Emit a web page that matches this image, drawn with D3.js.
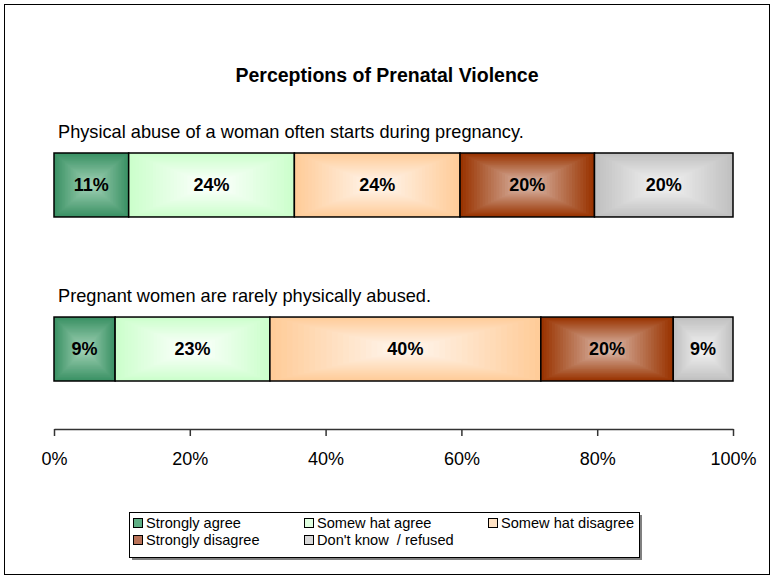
<!DOCTYPE html>
<html>
<head>
<meta charset="utf-8">
<script src="https://cdn.jsdelivr.net/npm/d3@7"></script>
<style>
  body { margin: 0; background: #fff; }
  svg { display: block; font-family: "Liberation Sans", Arial, sans-serif; }
</style>
</head>
<body>
<div id="chart"></div>
<script>
const width = 772;
const height = 577;

const title = "Perceptions of Prenatal Violence";
const statements = [
    "Physical abuse of a woman often starts during pregnancy.",
    "Pregnant women are rarely physically abused."
];
const categories = ["Strongly agree", "Somew hat agree", "Somew hat disagree", "Strongly disagree", "Don't know  / refused"];
const statement1 = [11.0, 24.4, 24.4, 19.8, 20.4];
const statement2 = [9.0, 22.8, 39.9, 19.5, 8.8];
const ticks = [0, 0.2, 0.4, 0.6, 0.8, 1];

// edge colour and centre colour of the "from centre" fill for each category
const edgeColors = ["#3a9164", "#ccffcc", "#ffcc99", "#993300", "#c0c0c0"];
const centerColors = ["#a2d2b6", "#ffffff", "#fff6ee", "#dcbcae", "#f4f4f4"];
const swatchColors = ["#5faf85", "#e0ffe0", "#ffe2c4", "#b97258", "#d8d8d8"];

const x = d3.scaleLinear().domain([0, 1]).range([54, 733]);
const y = d3.scaleBand().domain([0, 1]).range([153, 381]).paddingInner(0.61);
const pct = d3.format(".0%");

const svg = d3.select("#chart").append("svg")
    .attr("width", width)
    .attr("height", height);

// chart area border
svg.append("rect")
    .attr("x", 4.5).attr("y", 4.5)
    .attr("width", width - 7).attr("height", height - 7)
    .attr("fill", "#fff")
    .attr("stroke", "#000");

svg.append("text")
    .attr("x", 387).attr("y", 82)
    .attr("text-anchor", "middle")
    .attr("font-weight", "bold")
    .attr("font-size", 19.5)
    .text(title);

const rows = [statement1, statement2].map((vals, i) => {
    let acc = 0;
    return vals.map((v, j) => {
        const d = { row: i, cat: j, x0: acc / 100, x1: (acc + v) / 100, value: v / 100 };
        acc += v;
        return d;
    });
});

const rowG = svg.append("g")
    .selectAll("g")
    .data(rows)
    .join("g");

rowG.append("text")
    .attr("x", 58)
    .attr("y", (d, i) => y(i) - 15)
    .attr("font-size", 18.2)
    .text((d, i) => statements[i]);

const seg = rowG.selectAll("g.seg")
    .data(d => d)
    .join("g")
    .attr("class", "seg");

// scaled concentric rectangles to imitate the "from centre" gradient
const bands = d3.range(24);
seg.each(function(d) {
    const g = d3.select(this);
    const x0 = x(d.x0), x1 = x(d.x1), y0 = y(d.row), y1 = y(d.row) + y.bandwidth();
    const col = d3.interpolateRgb(edgeColors[d.cat], centerColors[d.cat]);
    const hw = (x1 - x0) / 2, hh = (y1 - y0) / 2;
    const n = bands.length;
    g.selectAll("rect.band")
        .data(bands)
        .join("rect")
        .attr("class", "band")
        .attr("x", k => x0 + hw * k / n)
        .attr("y", k => y0 + hh * k / n)
        .attr("width", k => 2 * hw * (1 - k / n))
        .attr("height", k => 2 * hh * (1 - k / n))
        .attr("fill", k => col(k / (n - 1)));
    g.append("rect")
        .attr("x", x0).attr("y", y0)
        .attr("width", x1 - x0).attr("height", y1 - y0)
        .attr("fill", "none")
        .attr("stroke", "#000")
        .attr("stroke-width", 1.5);
    g.append("text")
        .attr("x", (x0 + x1) / 2)
        .attr("y", (y0 + y1) / 2)
        .attr("dy", "0.35em")
        .attr("text-anchor", "middle")
        .attr("font-weight", "bold")
        .attr("font-size", 18)
        .text(pct(d.value));
});

// axis
const axis = svg.append("g")
    .attr("transform", "translate(0,429)")
    .call(d3.axisBottom(x).tickValues(ticks).tickFormat(pct).tickSize(7).tickSizeOuter(0).tickPadding(16));
axis.select(".domain").attr("stroke", "#333").attr("stroke-width", 1.5);
axis.selectAll(".tick line").attr("stroke", "#333").attr("stroke-width", 1.5);
axis.selectAll(".tick text")
    .attr("font-size", 18)
    .attr("font-family", "Liberation Sans, Arial, sans-serif")
    .attr("fill", "#000");

// legend
const legend = svg.append("g");
legend.append("rect")
    .attr("x", 132).attr("y", 515)
    .attr("width", 510).attr("height", 45)
    .attr("fill", "#808080");
legend.append("rect")
    .attr("x", 129.5).attr("y", 512.5)
    .attr("width", 510).attr("height", 45)
    .attr("fill", "#fff")
    .attr("stroke", "#000");

const legendX = [133, 304, 488];
const item = legend.selectAll("g")
    .data(categories)
    .join("g")
    .attr("transform", (d, i) => `translate(${legendX[i % 3]},${528 + Math.floor(i / 3) * 17})`);
item.append("rect")
    .attr("x", 0.5).attr("y", -9.5)
    .attr("width", 9).attr("height", 9)
    .attr("fill", (d, i) => swatchColors[i])
    .attr("stroke", "#000");
item.append("text")
    .attr("x", 13)
    .attr("y", 0)
    .attr("font-size", 14.6)
    .style("white-space", "pre")
    .text(d => d);
</script>
</body>
</html>
